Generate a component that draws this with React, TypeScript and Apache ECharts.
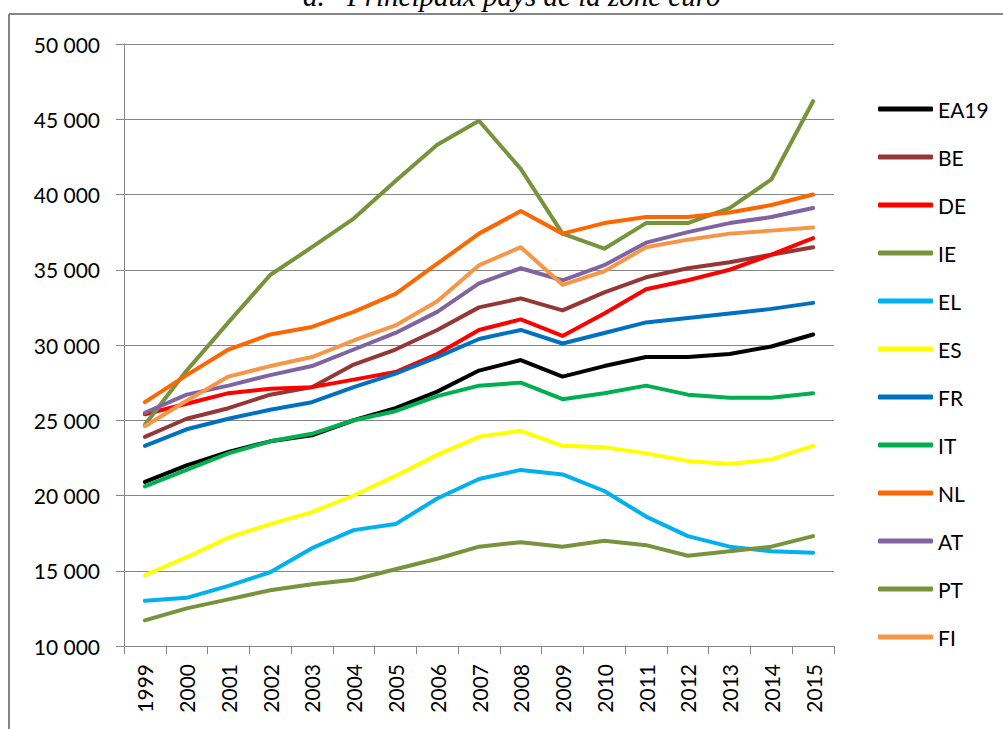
import React, { useEffect, useRef } from "react";
import * as echarts from "echarts";

const years = ["1999", "2000", "2001", "2002", "2003", "2004", "2005", "2006", "2007", "2008", "2009", "2010", "2011", "2012", "2013", "2014", "2015"];

const seriesNames = ["EA19", "BE", "DE", "IE", "EL", "ES", "FR", "IT", "NL", "AT", "PT", "FI"];
const seriesColors = ["#000000", "#953735", "#FF0000", "#77933C", "#00B0F0", "#FFFF00", "#0070C0", "#00B050", "#FF6600", "#8064A2", "#77933C", "#F79646"];

const EA19 = [20900, 22000, 22900, 23600, 24000, 25000, 25800, 26900, 28300, 29000, 27900, 28600, 29200, 29200, 29400, 29900, 30700];
const BE = [23900, 25100, 25800, 26700, 27200, 28700, 29700, 31000, 32500, 33100, 32300, 33500, 34500, 35100, 35500, 36000, 36500];
const DE = [25400, 26100, 26800, 27100, 27200, 27700, 28200, 29400, 31000, 31700, 30600, 32100, 33700, 34300, 35000, 36000, 37100];
const IE = [24700, 28300, 31500, 34650, 36500, 38400, 40900, 43300, 44900, 41700, 37400, 36400, 38100, 38100, 39100, 41000, 46200];
const EL = [13000, 13200, 14000, 14900, 16500, 17700, 18100, 19800, 21100, 21700, 21400, 20300, 18600, 17300, 16600, 16300, 16200];
const ES = [14700, 15900, 17200, 18100, 18900, 20000, 21300, 22700, 23900, 24300, 23300, 23200, 22800, 22300, 22100, 22400, 23300];
const FR = [23300, 24400, 25100, 25700, 26200, 27200, 28100, 29200, 30400, 31000, 30100, 30800, 31500, 31800, 32100, 32400, 32800];
const IT = [20600, 21700, 22800, 23600, 24100, 25000, 25600, 26600, 27300, 27500, 26400, 26800, 27300, 26700, 26500, 26500, 26800];
const NL = [26200, 28000, 29700, 30700, 31200, 32200, 33400, 35400, 37400, 38900, 37400, 38100, 38500, 38500, 38800, 39300, 40000];
const AT = [25500, 26700, 27300, 28000, 28600, 29700, 30800, 32200, 34100, 35100, 34300, 35300, 36800, 37500, 38100, 38500, 39100];
const PT = [11700, 12500, 13100, 13700, 14100, 14400, 15100, 15800, 16600, 16900, 16600, 17000, 16700, 16000, 16300, 16600, 17300];
const FI = [24600, 26300, 27900, 28600, 29200, 30300, 31300, 32900, 35300, 36500, 34000, 34900, 36500, 37000, 37400, 37600, 37800];

const seriesData = [EA19, BE, DE, IE, EL, ES, FR, IT, NL, AT, PT, FI];

const titlePrefix = "a.";
const titleText = "Principaux pays de la zone euro";

const FONT = "Lato, 'Liberation Sans', sans-serif";
const GREY = "#868686";

function fmt(v: number): string {
  const s = String(Math.round(v));
  return s.replace(/\B(?=(\d{3})+(?!\d))/g, " ");
}

export default function App() {
  const ref = useRef<HTMLDivElement>(null);
  useEffect(() => {
    if (!ref.current) return;
    const chart = echarts.init(ref.current, undefined, { renderer: "svg" });
    chart.setOption({
      animation: false,
      backgroundColor: "#ffffff",
      grid: { left: 124, right: 169, top: 44, bottom: 83, containLabel: false },
      xAxis: {
        type: "category",
        data: years,
        boundaryGap: true,
        axisLine: { show: true, lineStyle: { color: GREY, width: 1 } },
        axisTick: { show: true, length: 8, lineStyle: { color: GREY } },
        axisLabel: { rotate: 90, margin: 18, color: "#000", fontFamily: FONT, fontSize: 21, interval: 0 },
        splitLine: { show: false },
      },
      yAxis: {
        type: "value",
        min: 10000,
        max: 50000,
        interval: 5000,
        axisLine: { show: true, lineStyle: { color: GREY, width: 1 } },
        axisTick: { show: true, length: 8, lineStyle: { color: GREY } },
        axisLabel: { margin: 24, color: "#000", fontFamily: FONT, fontSize: 21, formatter: (v: number) => fmt(v) },
        splitLine: { show: true, lineStyle: { color: GREY, width: 1 } },
      },
      legend: {
        orient: "vertical",
        left: 873,
        top: 93,
        itemWidth: 55,
        itemHeight: 5,
        itemGap: 26,
        icon: "roundRect",
        textStyle: { fontFamily: FONT, fontSize: 21, color: "#000", lineHeight: 22, padding: [0, 0, 0, 0] },
        data: seriesNames,
      },
      series: seriesNames.map((name, i) => ({
        name,
        type: "line",
        data: seriesData[i],
        symbol: "none",
        showSymbol: false,
        color: seriesColors[i],
        lineStyle: { color: seriesColors[i], width: 4, cap: "round", join: "round" },
        itemStyle: { color: seriesColors[i] },
      })),
      graphic: [
        { type: "line", shape: { x1: 9, y1: 14, x2: 1003, y2: 14 }, style: { stroke: GREY, lineWidth: 2 } },
        { type: "line", shape: { x1: 9, y1: 14, x2: 9, y2: 729 }, style: { stroke: GREY, lineWidth: 2 } },
        {
          type: "text",
          left: 303,
          top: -19,
          style: { text: titlePrefix, font: "italic 29px 'Liberation Serif', 'Times New Roman', serif", fill: "#000" },
        },
        {
          type: "text",
          left: 347,
          top: -19,
          style: { text: titleText, font: "italic 29px 'Liberation Serif', 'Times New Roman', serif", fill: "#000" },
        },
      ],
    });
    return () => chart.dispose();
  }, []);
  return <div ref={ref} style={{ position: "absolute", left: 0, top: 0, width: 1003, height: 729 }} />;
}
